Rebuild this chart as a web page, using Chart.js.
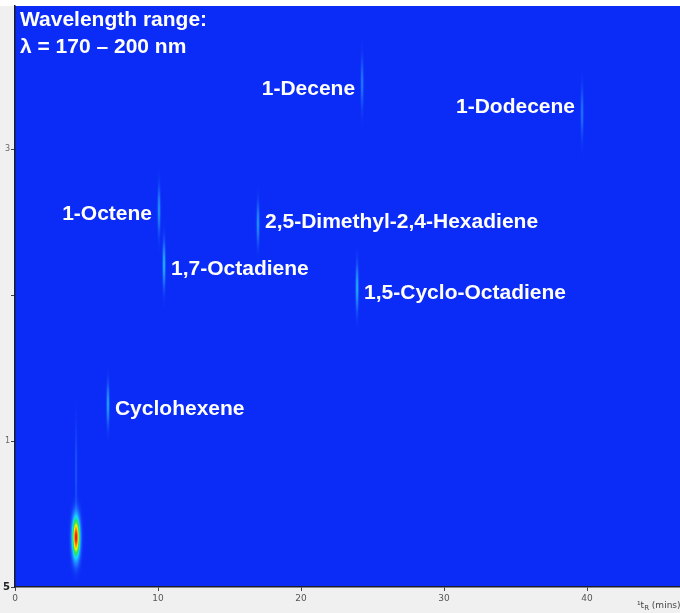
<!DOCTYPE html>
<html>
<head>
<meta charset="utf-8">
<script src="https://cdn.jsdelivr.net/npm/chart.js@4.4.1/dist/chart.umd.min.js"></script>
<style>
  html, body { margin: 0; padding: 0; background: #f0f0f0; }
  #wrap { width: 680px; height: 613px; }
</style>
</head>
<body>
<div id="wrap"><canvas id="chart" width="680" height="613"></canvas></div>
<script>
// GCxGC-VUV contour: first-dimension retention (min) vs second-dimension retention (s)
const compounds = ["", "", "Cyclohexene", "1-Octene", "1,7-Octadiene",
  "2,5-Dimethyl-2,4-Hexadiene", "1,5-Cyclo-Octadiene", "1-Decene", "1-Dodecene"];
const rt1Min   = [4.27, 4.27, 6.50, 10.07, 10.42, 16.99, 23.92, 24.27, 39.65];
const rt2Sec   = [0.34, 0.80, 1.25, 2.58, 2.21, 2.49, 2.05, 3.45, 3.25];
const response = [1.00, 0.07, 0.20, 0.17, 0.23, 0.17, 0.22, 0.12, 0.11];
const width1   = [0.17, 0.05, 0.065, 0.065, 0.065, 0.065, 0.065, 0.065, 0.065];
const width2   = [0.09, 0.20, 0.09, 0.10, 0.10, 0.09, 0.10, 0.11, 0.11];
const xTickValues = [0, 10, 20, 30, 40];
const yTickValues = [0, 1, 2, 3];
const yTickLabels = ["5", "1", "", "3"];

// label placement relative to each peak: side of the streak and vertical nudge (px)
const labelPlacement = [null, null,
  { side: "right", dy: 5 }, { side: "left", dy: 4 }, { side: "right", dy: 5 },
  { side: "right", dy: -1 }, { side: "right", dy: 5 }, { side: "left", dy: 6 },
  { side: "left", dy: -5 }];

// jet-like colour scale, low end is the plot background blue
const colourStops = [
  [0.00, [11, 43, 246]],
  [0.10, [30, 110, 255]],
  [0.28, [20, 215, 255]],
  [0.48, [40, 230, 70]],
  [0.68, [250, 240, 0]],
  [0.84, [255, 130, 0]],
  [1.00, [225, 25, 0]]
];
function colourAt(v) {
  if (v <= 0) return colourStops[0][1];
  if (v >= 1) return colourStops[colourStops.length - 1][1];
  for (let i = 1; i < colourStops.length; i++) {
    const [p1, c1] = colourStops[i];
    if (v <= p1) {
      const [p0, c0] = colourStops[i - 1];
      const t = (v - p0) / (p1 - p0);
      return [c0[0] + (c1[0] - c0[0]) * t, c0[1] + (c1[1] - c0[1]) * t, c0[2] + (c1[2] - c0[2]) * t];
    }
  }
}

const peaks = compounds.map((name, i) => ({
  x: rt1Min[i], y: rt2Sec[i], h: response[i], w1: width1[i], w2: width2[i], name
}));

// paints the signal surface into the chart area through the axis scales
const surfacePlugin = {
  id: "surface",
  beforeDraw(chart) {
    const { ctx, chartArea, scales } = chart;
    ctx.save();
    ctx.fillStyle = "#f0f0f0";
    ctx.fillRect(0, 0, chart.width, chart.height);
    ctx.fillStyle = "#ffffff";
    ctx.fillRect(0, 0, chart.width, Math.round(chartArea.top));
    ctx.restore();

    const left = Math.round(chartArea.left), top = Math.round(chartArea.top);
    const w = Math.round(chartArea.right) - left, h = Math.round(chartArea.bottom) - top;
    const xs = new Float64Array(w), ys = new Float64Array(h);
    for (let c = 0; c < w; c++) xs[c] = scales.x.getValueForPixel(left + c + 0.5);
    for (let r = 0; r < h; r++) ys[r] = scales.y.getValueForPixel(top + r + 0.5);
    const field = new Float32Array(w * h);
    for (const p of chart.data.datasets[0].data) {
      const colF = new Float32Array(w), rowF = new Float32Array(h);
      for (let c = 0; c < w; c++) { const d = (xs[c] - p.x) / p.w1; colF[c] = Math.exp(-0.5 * d * d); }
      for (let r = 0; r < h; r++) { const d = (ys[r] - p.y) / p.w2; rowF[r] = Math.exp(-0.5 * d * d); }
      for (let r = 0; r < h; r++) {
        if (rowF[r] < 1e-4) continue;
        for (let c = 0; c < w; c++) {
          if (colF[c] < 1e-4) continue;
          field[r * w + c] += p.h * rowF[r] * colF[c];
        }
      }
    }
    const img = ctx.createImageData(w, h);
    for (let i = 0; i < w * h; i++) {
      const col = colourAt(field[i]);
      img.data[i * 4] = col[0]; img.data[i * 4 + 1] = col[1];
      img.data[i * 4 + 2] = col[2]; img.data[i * 4 + 3] = 255;
    }
    ctx.putImageData(img, left, top);
  }
};

// compound names, header text and the x-axis title
const annotationPlugin = {
  id: "annotations",
  afterDraw(chart) {
    const { ctx, chartArea, scales } = chart;
    ctx.save();
    ctx.fillStyle = "#ffffff";
    ctx.font = "bold 21px 'Liberation Sans', Arial, sans-serif";
    ctx.textBaseline = "middle";
    chart.data.datasets[0].data.forEach((p, i) => {
      const place = labelPlacement[i];
      if (!p.name || !place) return;
      const px = scales.x.getPixelForValue(p.x);
      const py = scales.y.getPixelForValue(p.y) + place.dy;
      if (place.side === "left") { ctx.textAlign = "right"; ctx.fillText(p.name, px - 7, py); }
      else { ctx.textAlign = "left"; ctx.fillText(p.name, px + 7, py); }
    });
    ctx.textAlign = "left";
    ctx.fillText("Wavelength range:", chartArea.left + 5, chartArea.top + 14);
    ctx.fillText("\u03bb = 170 \u2013 200 nm", chartArea.left + 5, chartArea.top + 41);

    // axis title: ¹t_R (mins)
    ctx.fillStyle = "#444";
    ctx.textBaseline = "alphabetic";
    let tx = 637, ty = 608;
    ctx.font = "9px 'DejaVu Sans', sans-serif";
    ctx.fillText("\u00b9t", tx, ty); tx += ctx.measureText("\u00b9t").width;
    ctx.font = "7px 'DejaVu Sans', sans-serif";
    ctx.fillText("R", tx, ty + 2); tx += ctx.measureText("R").width;
    ctx.font = "9px 'DejaVu Sans', sans-serif";
    ctx.fillText(" (mins)", tx, ty);
    ctx.restore();
  }
};

new Chart(document.getElementById("chart"), {
  type: "scatter",
  data: { datasets: [{ data: peaks, pointRadius: 0, pointHoverRadius: 0 }] },
  options: {
    responsive: false,
    animation: false,
    events: [],
    layout: { padding: { top: 6, right: 0, left: 0, bottom: 0 } },
    plugins: { legend: { display: false }, tooltip: { enabled: false } },
    scales: {
      x: {
        type: "linear", min: 0, max: 46.5,
        afterBuildTicks: s => { s.ticks = xTickValues.map(v => ({ value: v })); },
        afterFit: s => { s.height = 26; },
        ticks: { color: "#555", font: { family: "'DejaVu Sans', sans-serif", size: 9 }, padding: 2, maxRotation: 0 },
        grid: { drawOnChartArea: false, drawTicks: true, tickLength: 4, color: "#444" },
        border: { display: true, color: "#1c1c2c", width: 1.5 }
      },
      y: {
        type: "linear", min: 0, max: 3.98,
        afterBuildTicks: s => { s.ticks = yTickValues.map(v => ({ value: v })); },
        afterFit: s => { s.width = 15; },
        ticks: {
          callback: (v, i) => yTickLabels[i],
          color: c => c.index === 0 ? "#222" : "#666",
          font: c => c.index === 0 ? { family: "'DejaVu Sans', sans-serif", size: 10, weight: "bold" }
                                   : { family: "'DejaVu Sans', sans-serif", size: 8 },
          padding: 1
        },
        grid: { drawOnChartArea: false, drawTicks: true, tickLength: 4, color: "#444" },
        border: { display: true, color: "#1c1c2c", width: 1.5 }
      }
    }
  },
  plugins: [surfacePlugin, annotationPlugin]
});
</script>
</body>
</html>
